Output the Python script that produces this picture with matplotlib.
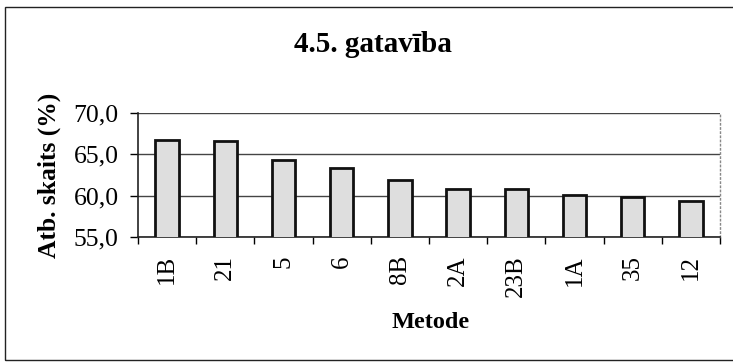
import matplotlib
matplotlib.use("Agg")
import matplotlib.pyplot as plt
from matplotlib.patches import Rectangle
from matplotlib.ticker import FuncFormatter, FixedLocator
import numpy as np

methods = ["1B", "21", "5", "6", "8B", "2A", "23B", "1A", "35", "12"]
values = [66.7, 66.6, 64.3, 63.4, 61.9, 60.8, 60.8, 60.1, 59.8, 59.4]
y_ticks = [55.0, 60.0, 65.0, 70.0]

plt.rcParams["font.family"] = ["Liberation Serif", "DejaVu Serif"]

W, H = 733, 362
fig = plt.figure(figsize=(W / 100, H / 100), dpi=100)
fig.patch.set_facecolor("white")

# outer chart frame (open on the right)
fig.add_artist(Rectangle((5 / W, 2 / H), 1.0, 353 / H, transform=fig.transFigure,
                         fill=False, edgecolor="#222222", linewidth=1.0))

ax = fig.add_axes([138 / W, 125 / H, (720 - 138) / W, (237 - 113) / H])
x = np.arange(len(methods))
ax.bar(x, values, width=0.4, color="#dedede", edgecolor="#111111", linewidth=2.0, zorder=3)

ax.set_ylim(55, 70)
ax.set_xlim(-0.5, len(methods) - 0.5)
ax.set_yticks(y_ticks)
ax.yaxis.set_major_formatter(FuncFormatter(lambda v, p: f"{v:.1f}".replace(".", ",")))
ax.yaxis.grid(True, color="#444444", linewidth=1.0, zorder=0)

# category boundary ticks and centred labels
ax.xaxis.set_major_locator(FixedLocator(np.arange(-0.5, len(methods), 1.0)))
ax.xaxis.set_minor_locator(FixedLocator(x))
ax.set_xticklabels([""] * (len(methods) + 1))
ax.set_xticklabels(methods, minor=True, rotation=90, fontsize=18)
ax.tick_params(axis="x", which="major", length=5, width=1.0, direction="out")
ax.tick_params(axis="x", which="minor", length=0, pad=13)
ax.tick_params(axis="y", length=6, width=1.0, labelsize=18.5, pad=8)

for side in ("left", "bottom"):
    ax.spines[side].set_color("#222222")
    ax.spines[side].set_linewidth(1.2)
ax.spines["top"].set_visible(False)
ax.spines["right"].set_color("#888888")
ax.spines["right"].set_linestyle((0, (1, 2)))
ax.spines["right"].set_linewidth(1.0)

fig.text(431 / W, 1 - 323 / H, "Metode", ha="center", va="center",
         fontsize=17.5, fontweight="bold")
fig.text(49 / W, 1 - 175 / H, "Atb. skaits (%)", ha="center", va="center",
         rotation=90, fontsize=18.4, fontweight="bold")
fig.text(373 / W, 1 - 44 / H, "4.5. gatavība", ha="center", va="center",
         fontsize=21, fontweight="bold")

fig.savefig("out.png", dpi=100)
